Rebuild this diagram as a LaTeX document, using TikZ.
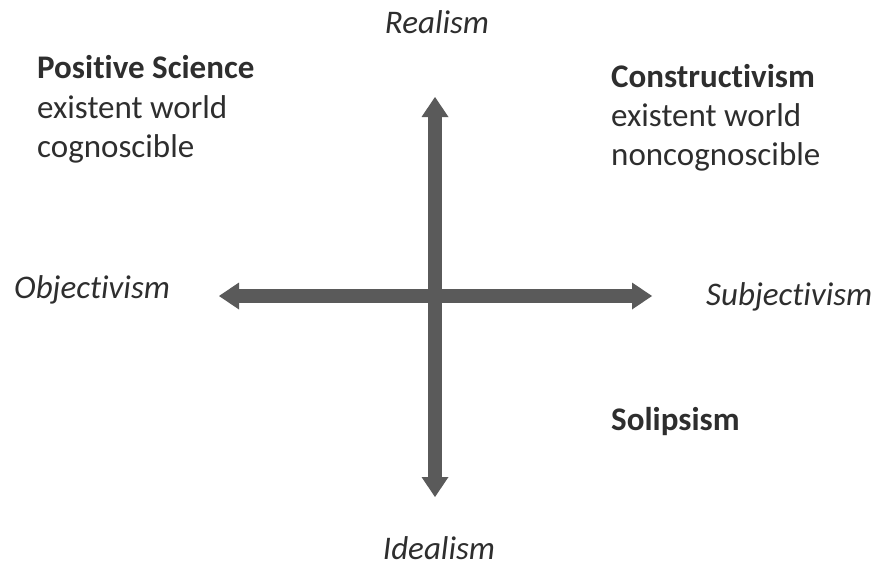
\documentclass[tikz,border=0pt]{standalone}
\usepackage{fontspec}
\setmainfont[Ligatures=NoCommon]{Carlito}
\usetikzlibrary{arrows.meta, calc, positioning}
\definecolor{axisgray}{HTML}{5A5A5A}
\definecolor{ink}{HTML}{2E2E2E}
\newcommand\bigtext{\fontsize{33}{39}\selectfont}
\tikzset{
  every picture/.style={line join=miter},
  % thick double-headed axis
  axis/.style={draw=axisgray, line width=14pt,
    {Triangle[length=20pt, width=27pt, line width=0pt]}-{Triangle[length=20pt, width=27pt, line width=0pt]}},
  pole/.style={font=\bigtext\itshape, text=ink, inner sep=0pt, anchor=base},
  title/.style={font=\bigtext\bfseries, text=ink, inner sep=0pt, anchor=base west},
  body/.style={font=\bigtext, text=ink, inner sep=0pt, anchor=base west},
}

\begin{document}
\begin{tikzpicture}[x=1pt, y=-1pt]
  \useasboundingbox (0,0) rectangle (875,568);
  % axes
  \coordinate (top) at (435,97);
  \coordinate (bot) at (435,497);
  \coordinate (lft) at (219,296);
  \coordinate (rgt) at (652,296);
  \draw[axis] (lft) -- (rgt);
  \draw[axis] (bot) -- (top);
  % poles
  \node[pole] (real) at (437,33) {Realism};
  \node[pole] (ideal) at (439,559) {Idealism};
  \node[pole, anchor=base west] (obj) at (14,298) {Objectivism};
  \node[pole, anchor=base west] (subj) at (706,305) {Subjectivism};
  % quadrants
  \node[title] (ps) at (37,78) {Positive Science};
  \node[body] (ps1) at ($(ps.base west)+(0,40)$) {existent world};
  \node[body] (ps2) at ($(ps1.base west)+(0,39)$) {cognoscible};
  \node[title] (con) at (611,87) {Constructivism};
  \node[body] (con1) at ($(con.base west)+(0,39)$) {existent world};
  \node[body] (con2) at ($(con1.base west)+(0,39)$) {noncognoscible};
  \node[title] (sol) at (611,430) {Solipsism};
\end{tikzpicture}
\end{document}
